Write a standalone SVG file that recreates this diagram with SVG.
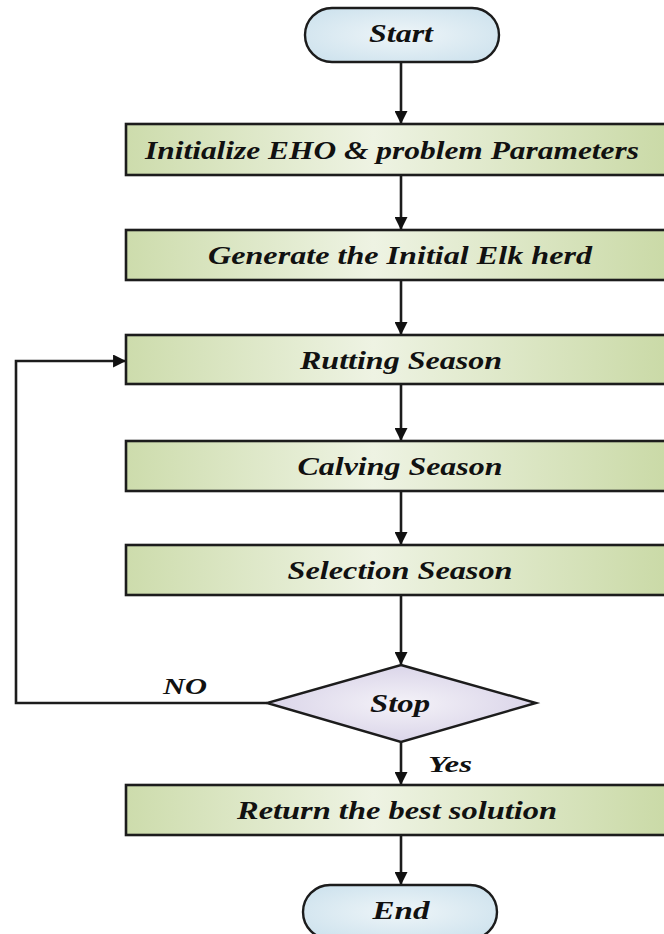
<svg xmlns="http://www.w3.org/2000/svg" width="664" height="934" viewBox="0 0 664 934">
<style>
.proc{stroke:#1c1c1c;stroke-width:2.6;fill:url(#gGreen)}
.term{stroke:#1c1c1c;stroke-width:2.4;fill:url(#gBlue)}
.dec{stroke:#1c1c1c;stroke-width:2.4;fill:url(#gPurple)}
.lbl{font-family:"Liberation Serif","Times New Roman",serif;font-weight:bold;font-style:italic;font-size:26px;fill:#111;text-anchor:middle}
.edge{font-family:"Liberation Serif","Times New Roman",serif;font-weight:bold;font-style:italic;font-size:23px;fill:#111;text-anchor:middle}
.conn{stroke:#1c1c1c;stroke-width:2.6;fill:none}
</style>
<defs>
<linearGradient id="gGreen" x1="0" y1="0" x2="1" y2="0">
<stop offset="0" stop-color="#cddcac"/>
<stop offset="0.45" stop-color="#eef3e3"/>
<stop offset="1" stop-color="#c9d9a5"/>
</linearGradient>
<radialGradient id="gBlue" cx="0.5" cy="0.5" r="0.6">
<stop offset="0" stop-color="#eef5f8"/>
<stop offset="1" stop-color="#cfe3ee"/>
</radialGradient>
<radialGradient id="gPurple" cx="0.5" cy="0.5" r="0.6">
<stop offset="0" stop-color="#f4f2f8"/>
<stop offset="1" stop-color="#d5cfe6"/>
</radialGradient>
<marker id="arr" viewBox="0 0 12 12" refX="11" refY="6" markerWidth="13" markerHeight="13" markerUnits="userSpaceOnUse" orient="auto">
<path d="M0,0 L12,6 L0,12 z" fill="#111"/>
</marker>
</defs>

<g id="connectors">
<line class="conn" x1="401" y1="62" x2="401" y2="123" marker-end="url(#arr)"/>
<line class="conn" x1="401" y1="175" x2="401" y2="229" marker-end="url(#arr)"/>
<line class="conn" x1="401" y1="280" x2="401" y2="334" marker-end="url(#arr)"/>
<line class="conn" x1="401" y1="384" x2="401" y2="440" marker-end="url(#arr)"/>
<line class="conn" x1="401" y1="491" x2="401" y2="544" marker-end="url(#arr)"/>
<line class="conn" x1="401" y1="595" x2="401" y2="664" marker-end="url(#arr)"/>
<line class="conn" x1="401" y1="742" x2="401" y2="784" marker-end="url(#arr)"/>
<line class="conn" x1="401" y1="835" x2="401" y2="884" marker-end="url(#arr)"/>
<polyline class="conn" points="267,703 16,703 16,361 125,361" marker-end="url(#arr)"/>
<text class="edge" x="185" y="694" textLength="44" lengthAdjust="spacingAndGlyphs">NO</text>
<text class="edge" x="450" y="772" textLength="44" lengthAdjust="spacingAndGlyphs">Yes</text>
</g>

<g id="start">
<rect class="term" x="305" y="8" width="194" height="54" rx="27" ry="27"/>
<text class="lbl" x="401" y="42" textLength="64" lengthAdjust="spacingAndGlyphs">Start</text>
</g>
<g id="init">
<rect class="proc" x="126" y="124" width="550" height="51"/>
<text class="lbl" x="392" y="159" textLength="494" lengthAdjust="spacingAndGlyphs">Initialize EHO &amp; problem Parameters</text>
</g>
<g id="generate">
<rect class="proc" x="126" y="230" width="550" height="50"/>
<text class="lbl" x="400" y="264" textLength="384" lengthAdjust="spacingAndGlyphs">Generate the Initial Elk herd</text>
</g>
<g id="rutting">
<rect class="proc" x="126" y="335" width="550" height="49"/>
<text class="lbl" x="401" y="369" textLength="202" lengthAdjust="spacingAndGlyphs">Rutting Season</text>
</g>
<g id="calving">
<rect class="proc" x="126" y="441" width="550" height="50"/>
<text class="lbl" x="400" y="475" textLength="205" lengthAdjust="spacingAndGlyphs">Calving Season</text>
</g>
<g id="selection">
<rect class="proc" x="126" y="545" width="550" height="50"/>
<text class="lbl" x="400" y="579" textLength="225" lengthAdjust="spacingAndGlyphs">Selection Season</text>
</g>
<g id="stop">
<polygon class="dec" points="401,665 536,703 401,742 267,703"/>
<text class="lbl" x="400" y="712" textLength="60" lengthAdjust="spacingAndGlyphs">Stop</text>
</g>
<g id="return">
<rect class="proc" x="126" y="785" width="550" height="50"/>
<text class="lbl" x="397" y="819" textLength="320" lengthAdjust="spacingAndGlyphs">Return the best solution</text>
</g>
<g id="end">
<rect class="term" x="303" y="885" width="194" height="54" rx="27" ry="27"/>
<text class="lbl" x="401" y="919" textLength="57" lengthAdjust="spacingAndGlyphs">End</text>
</g>
</svg>
